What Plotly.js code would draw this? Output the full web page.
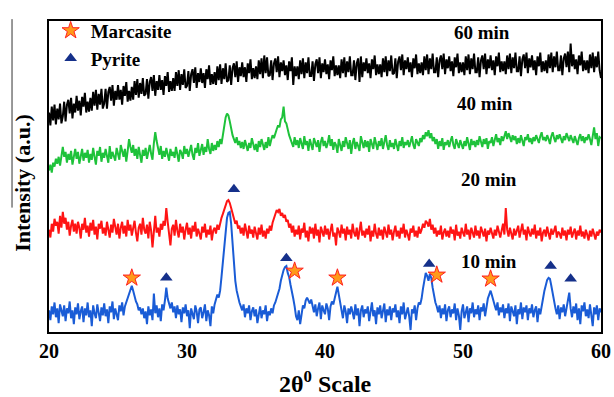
<!DOCTYPE html>
<html><head><meta charset="utf-8">
<script src="https://cdn.plot.ly/plotly-3.0.1.min.js"></script>
<style>html,body{margin:0;padding:0;background:#fff}#plot{width:614px;height:397px}</style>
</head><body><div id="plot"></div>
<script>
// 2θ sampling grid: 20.0 .. 60.0 step 0.1 (401 points)
const thetaStart = 20, thetaStep = 0.1, nPoints = 401;
const xTicks = [20, 30, 40, 50, 60];

// Intensity (a.u.)
const int10 = [
22,12,26,18,30,15,24,9,28,20,
16,27,11,24,19,31,14,22,8,25,
18,29,13,21,26,10,24,17,30,15,
22,6,27,19,14,28,21,11,25,17,
29,16,23,9,26,20,31,13,24,18,
12,27,21,30,17,26,30,34,38,44,
47,42,36,31,28,22,25,18,24,14,
21,8,26,17,23,12,39,19,27,15,
24,11,28,22,32,45,34,29,24,30,
20,26,14,27,18,23,10,25,19,28,
16,22,4,24,19,13,27,21,9,23,
25,14,20,28,11,22,17,6,26,19,
28,33,38,35,42,56,72,90,104,116,
121,122,110,90,68,52,42,34,30,26,
22,28,15,24,19,27,12,21,25,16,
23,9,20,26,14,22,18,27,11,21,
17,24,19,27,30,35,38,44,52,58,
63,66,67,60,56,48,42,34,26,16,
12,22,8,18,27,24,32,35,31,29,
33,26,20,28,16,24,30,13,27,22,
18,29,24,12,26,31,28,34,40,46,
38,30,25,14,27,21,9,24,18,26,
20,13,28,17,24,6,22,27,15,23,
19,26,11,24,30,16,22,8,25,18,
27,14,21,29,10,23,17,26,12,24,
20,28,15,22,9,26,18,30,13,21,
25,16,2,23,19,27,12,24,30,28,
34,44,54,60,57,52,59,55,45,36,
30,26,20,27,14,24,18,28,11,22,
26,15,23,19,29,12,24,17,2,21,
28,14,22,26,10,24,19,30,15,23,
18,27,12,25,21,29,16,28,34,38,
42,37,33,27,22,30,17,25,20,28,
14,24,19,29,11,26,21,16,27,8,
23,18,30,13,25,20,27,12,24,19,
28,15,22,26,10,24,18,29,34,42,
48,53,55,54,47,38,30,24,18,27,
13,25,20,28,16,23,30,40,24,15,
26,19,29,12,24,8,27,21,30,16,
23,14,28,19,6,25,18,27,12,24,
20];

const int20 = [
104,96,110,102,115,108,112,100,118,106,
122,110,116,104,112,98,108,114,102,110,
100,112,106,95,110,104,116,101,108,97,
111,103,114,99,107,94,110,105,113,100,
106,98,112,103,96,109,101,115,104,99,
110,95,106,112,100,108,97,114,103,109,
98,107,113,101,92,106,110,99,116,104,
100,109,95,112,103,86,107,118,101,106,
97,110,104,113,108,126,112,102,88,105,
109,98,114,103,96,110,101,107,94,104,
111,99,106,95,108,102,112,97,105,100,
94,107,101,110,96,104,99,108,93,103,
106,100,109,104,112,116,120,125,130,133,
134,131,126,120,116,110,113,105,108,100,
106,98,110,102,95,108,100,104,96,107,
101,94,106,99,109,97,103,95,105,100,
108,103,111,116,119,124,122,125,118,121,
116,119,112,114,106,110,101,108,97,104,
99,108,94,105,101,111,96,103,92,107,
100,106,95,110,98,104,91,107,102,97,
108,99,105,94,103,110,97,101,88,106,
102,96,109,100,105,93,107,99,104,95,
110,101,97,106,94,104,112,98,103,96,
105,99,108,92,103,97,110,100,95,106,
98,104,94,107,101,96,109,99,104,93,
102,108,97,103,95,106,100,110,96,104,
99,93,105,101,108,97,103,96,107,100,
104,110,106,113,111,107,115,104,109,100,
106,97,103,99,108,94,101,105,97,103,
96,107,100,104,93,109,98,102,95,106,
101,97,110,99,104,94,106,100,96,108,
98,103,95,107,101,97,105,92,103,99,
106,100,95,104,98,108,101,96,103,110,
99,126,104,97,106,100,94,105,98,103,
108,96,102,110,99,104,93,107,101,97,
105,99,109,95,103,98,106,92,101,104,
97,107,100,94,105,99,103,108,96,102,
100,95,106,98,103,93,104,99,107,96,
101,105,94,103,98,108,97,102,95,104,
99,93,103,97,105,100,94,102,98,104,
101];

const int40 = [
164,170,162,172,168,176,171,178,169,180,
188,178,183,172,181,175,184,170,179,186,
176,183,171,180,186,174,182,177,185,172,
181,175,187,178,170,184,179,188,173,182,
177,186,180,172,189,176,183,179,174,187,
181,175,190,183,178,186,173,184,196,188,
182,190,179,186,176,188,181,172,185,179,
187,176,183,190,181,175,192,203,194,185,
180,189,176,184,178,187,181,174,186,179,
183,177,188,180,173,185,182,176,189,181,
186,178,184,190,180,175,187,182,192,179,
185,191,180,188,183,196,186,181,192,184,
190,185,194,188,196,191,200,210,218,222,
220,214,206,200,196,192,198,190,194,187,
193,186,195,189,184,192,187,197,190,185,
191,183,194,188,196,190,185,193,187,198,
189,195,200,197,203,206,210,208,216,218,
229,214,212,205,200,196,192,188,198,190,
195,187,197,191,186,199,190,194,184,196,
190,185,197,192,188,195,183,193,198,189,
194,187,192,200,189,196,185,193,190,182,
196,190,184,194,188,198,191,186,195,181,
192,197,186,193,189,184,199,191,187,195,
188,194,183,196,190,186,198,192,185,194,
189,197,186,193,200,190,185,195,188,192,
186,196,191,184,194,189,198,187,193,190,
195,188,193,199,190,186,196,192,189,197,
193,200,196,203,199,205,197,202,194,198,
191,196,186,194,189,197,185,193,190,195,
188,194,199,190,186,196,192,187,195,191,
186,194,189,198,192,185,196,190,194,188,
195,190,199,193,188,196,191,197,186,194,
192,198,189,195,201,193,197,190,199,194,
200,204,196,202,198,193,200,195,199,191,
197,192,200,194,189,198,195,201,193,197,
191,198,194,200,196,192,199,203,195,198,
194,200,196,191,199,203,197,193,200,196,
201,197,192,199,195,202,198,194,200,196,
192,199,195,190,197,201,194,199,192,198,
195,201,196,190,199,208,196,202,189,198,
197];

const int60 = [
223,210,229,215,231,211,227,216,232,212,
219,234,214,231,236,222,238,217,232,223,
240,225,235,220,239,229,243,223,234,224,
238,225,244,230,246,226,242,231,247,227,
232,247,227,244,249,235,251,230,245,236,
251,236,246,231,250,240,254,234,245,235,
249,236,255,241,257,238,253,242,258,240,
242,257,237,254,259,245,261,240,255,246,
261,246,256,241,260,250,264,244,255,245,
258,245,264,250,266,246,262,251,267,248,
250,265,245,262,267,253,269,248,263,254,
268,253,263,248,267,257,271,251,262,252,
264,251,270,256,272,252,268,257,273,254,
256,271,251,268,273,259,275,254,269,260,
274,259,269,254,273,263,277,257,268,258,
270,257,276,262,278,258,281,263,279,260,
261,276,256,273,278,264,280,259,274,265,
276,261,271,256,275,265,279,251,270,260,
270,257,276,262,278,258,274,263,279,260,
260,275,255,272,277,263,279,258,273,264,
277,262,272,257,276,266,280,260,271,261,
271,258,277,263,279,259,275,264,280,261,
261,276,256,273,278,254,280,259,274,265,
278,263,273,258,277,267,281,261,272,262,
272,259,278,264,280,260,276,265,281,262,
263,278,258,275,280,266,282,261,276,267,
279,264,274,259,278,268,282,262,273,263,
274,261,280,266,282,262,278,267,283,264,
264,279,259,276,281,267,283,262,277,268,
280,265,275,260,279,269,283,263,274,264,
274,261,280,266,282,262,278,267,283,264,
264,279,259,276,281,267,283,262,277,268,
281,266,276,261,280,270,284,264,275,265,
275,262,281,267,283,263,279,268,284,265,
265,280,260,277,282,268,284,263,278,269,
281,266,276,261,280,270,284,264,275,265,
276,263,282,268,284,264,280,269,285,266,
266,281,261,278,283,269,285,264,293,270,
282,267,277,262,281,271,285,265,276,266,
276,263,282,268,284,264,280,269,285,266,
258];

// Phase markers (2θ, height)
const marcasiteX = [26.0, 37.8, 40.9, 48.1, 52.0];
const marcasiteY = [55, 62, 55, 58, 54];
const pyriteX = [28.5, 33.4, 37.2, 47.55, 56.35, 57.8];
const pyriteY = [55, 145, 75, 69, 67, 54];

// Curve labels
const labelText = ['60 min', '40 min', '20 min', '10 min'];
const labelX = [51.4, 51.6, 51.9, 51.9];
const labelY = [304, 232, 155, 72];

const twoTheta = [];
for (let i = 0; i < nPoints; i++) twoTheta.push(+(thetaStart + i * thetaStep).toFixed(2));

const serif = 'Liberation Serif, Times New Roman, serif';
function line(y, color) {
  return {x: twoTheta, y: y, type: 'scatter', mode: 'lines', showlegend: false,
          line: {color: color, width: 2}, hoverinfo: 'skip'};
}
const traces = [
  line(int60, '#000000'),
  line(int40, '#1ec23a'),
  line(int20, '#ff1414'),
  line(int10, '#1a5cd6'),
  {x: marcasiteX, y: marcasiteY, type: 'scatter', mode: 'markers', name: '<b>Marcasite</b>',
   legendgroup: 'a', marker: {symbol: 'star', size: 13, color: '#ff9a1a', line: {color: '#ff2020', width: 1}}},
  {x: pyriteX, y: pyriteY, type: 'scatter', mode: 'markers', name: '<b>Pyrite</b>',
   legendgroup: 'b', marker: {symbol: 'triangle-up', size: 11, color: '#15308a', line: {width: 0}}}
];

const annotations = labelText.map((t, i) => ({
  x: labelX[i], y: labelY[i], xref: 'x', yref: 'y', text: '<b>' + t + '</b>', showarrow: false,
  font: {family: serif, size: 19, color: '#000'}, xanchor: 'center', yanchor: 'middle'
}));
annotations.push({x: 0.5, y: -0.161, xref: 'paper', yref: 'paper', showarrow: false,
  text: '<b>2θ<sup>0</sup> Scale</b>', font: {family: serif, size: 24, color: '#000'}, xanchor: 'center', yanchor: 'middle'});
annotations.push({x: -0.047, y: 0.48, xref: 'paper', yref: 'paper', showarrow: false, textangle: -90,
  text: '<b>Intensity (a.u.)</b>', font: {family: serif, size: 22, color: '#000'}, xanchor: 'center', yanchor: 'middle'});

const layout = {
  width: 614, height: 397,
  margin: {l: 49, r: 13, t: 16, b: 65},
  paper_bgcolor: '#fff', plot_bgcolor: '#fff',
  showlegend: true,
  legend: {x: 0.003, y: 1.03, xanchor: 'left', yanchor: 'top', bgcolor: 'rgba(0,0,0,0)',
           traceorder: 'grouped', tracegroupgap: 0,
           font: {family: serif, size: 19, color: '#000', weight: 'bold'}},
  xaxis: {range: [20, 60], tickvals: xTicks, ticks: '', showgrid: false, zeroline: false,
          showline: true, mirror: true, linecolor: '#000', linewidth: 2,
          tickfont: {family: serif, size: 20, color: '#000', weight: 'bold'}},
  yaxis: {range: [0, 316], showticklabels: false, ticks: '', showgrid: false, zeroline: false,
          showline: true, mirror: true, linecolor: '#000', linewidth: 2},
  annotations: annotations,
  shapes: [{type: 'line', xref: 'paper', yref: 'paper', x0: -0.067, x1: -0.067, y0: 0.40, y1: 1.006,
            line: {color: '#333', width: 1}}]
};
Plotly.newPlot('plot', traces, layout, {displayModeBar: false, staticPlot: true});
</script></body></html>
